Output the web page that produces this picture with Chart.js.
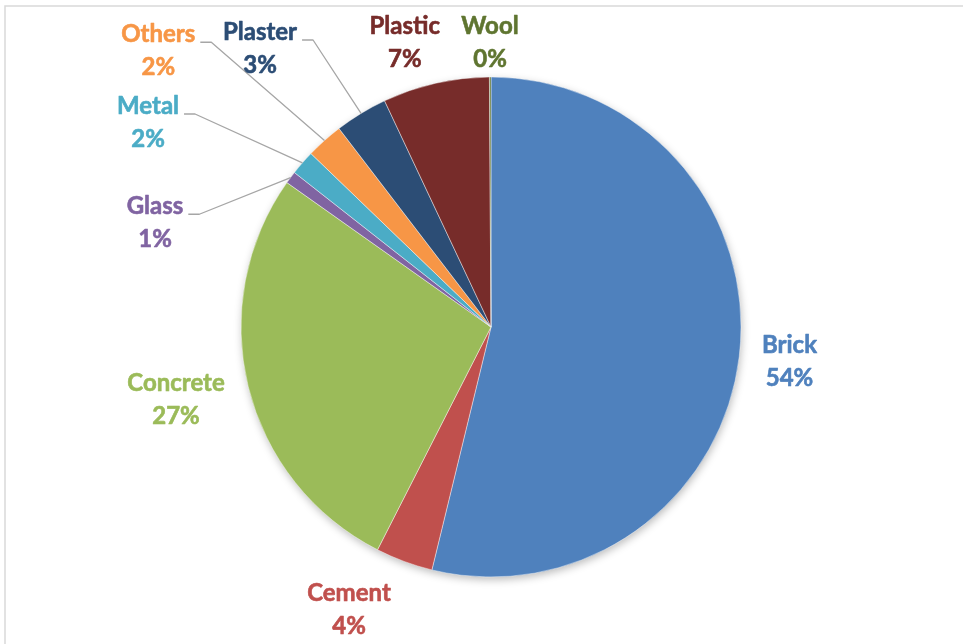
<!DOCTYPE html>
<html>
<head>
<meta charset="utf-8">
<title>Waste composition</title>
<script src="https://cdn.jsdelivr.net/npm/chart.js@4.4.1/dist/chart.umd.min.js"></script>
<style>
  html, body { margin: 0; padding: 0; background: #fff; overflow: hidden; }
  #wrap { width: 963px; height: 644px; position: relative; }
</style>
</head>
<body>
<div id="wrap"><canvas id="pie" width="963" height="644"></canvas></div>
<script>
const categories = ['Brick', 'Cement', 'Concrete', 'Glass', 'Metal', 'Others', 'Plaster', 'Plastic', 'Wool'];
const shares = [53.8, 3.7, 27.3, 0.8, 1.6, 2.4, 3.4, 6.9, 0.1];
const sliceColors = ['#4f81bd', '#c0504d', '#9bbb59', '#8064a2', '#4bacc6', '#f79646', '#2c4d75', '#772c2a', '#5f7530'];

// where each label block sits, in pie radii from the centre
const labelSpots = [
  [1.194, 0.141], [-0.568, 1.133], [-1.26, 0.291], [-1.344, -0.415], [-1.372, -0.816],
  [-1.331, -1.103], [-0.924, -1.112], [-0.345, -1.136], [-0.004, -1.135]
];
// small slices get a leader line out to their label
const leaderLines = [false, false, false, true, true, true, true, false, false];

const labelFont = 'bold 24px Lato';
const lineGap = 33;

const pieDecor = {
  id: 'pieDecor',
  beforeDraw(chart) {
    const ctx = chart.ctx;
    ctx.save();
    ctx.strokeStyle = '#d9d9d9';
    ctx.lineWidth = 1.5;
    ctx.beginPath();
    ctx.moveTo(5, 700);
    ctx.lineTo(5, 6);
    ctx.lineTo(1000, 6);
    ctx.stroke();
    ctx.restore();
  },
  beforeDatasetsDraw(chart) {
    // soft drop shadow under the pie
    const arc = chart.getDatasetMeta(0).data[0];
    const ctx = chart.ctx;
    ctx.save();
    ctx.shadowColor = 'rgba(0,0,0,0.28)';
    ctx.shadowBlur = 9;
    ctx.shadowOffsetX = 1;
    ctx.shadowOffsetY = 3;
    ctx.fillStyle = '#fff';
    ctx.beginPath();
    ctx.arc(arc.x, arc.y, arc.outerRadius - 0.5, 0, Math.PI * 2);
    ctx.fill();
    ctx.restore();
  },
  afterDatasetsDraw(chart) {
    const ctx = chart.ctx;
    const arcs = chart.getDatasetMeta(0).data;
    const total = shares.reduce((a, b) => a + b, 0);
    ctx.save();
    ctx.font = labelFont;
    ctx.textAlign = 'center';
    ctx.textBaseline = 'middle';
    ctx.lineJoin = 'round';
    arcs.forEach((arc, i) => {
      const { x, y, startAngle, endAngle, outerRadius } = arc;
      const cx = x + labelSpots[i][0] * outerRadius;
      const cy = y + labelSpots[i][1] * outerRadius;
      const top = cy - lineGap / 2;
      const name = categories[i];
      const pct = Math.round(shares[i] / total * 100) + '%';
      if (leaderLines[i]) {
        const mid = (startAngle + endAngle) / 2;
        const ex = x + Math.cos(mid) * outerRadius;
        const ey = y + Math.sin(mid) * outerRadius;
        const lx = cx + ctx.measureText(name).width / 2 + 5;
        const ly = top + 7.5;
        ctx.strokeStyle = '#a6a6a6';
        ctx.lineWidth = 1.3;
        ctx.beginPath();
        ctx.moveTo(lx, ly);
        ctx.lineTo(lx + 11, ly);
        ctx.lineTo(ex, ey);
        ctx.stroke();
      }
      // thin outline in the fill colour gives the heavier label weight
      ctx.fillStyle = sliceColors[i];
      ctx.strokeStyle = sliceColors[i];
      ctx.lineWidth = 0.6;
      ctx.fillText(name, cx, top);
      ctx.strokeText(name, cx, top);
      ctx.fillText(pct, cx, top + lineGap);
      ctx.strokeText(pct, cx, top + lineGap);
    });
    ctx.restore();
  }
};

function drawChart() {
  new Chart(document.getElementById('pie'), {
    type: 'pie',
    data: {
      labels: categories,
      datasets: [{
        data: shares,
        backgroundColor: sliceColors,
        borderColor: 'rgba(255,255,255,0.7)',
        borderWidth: 0.6
      }]
    },
    options: {
      responsive: false,
      animation: false,
      events: [],
      radius: 250,
      layout: { padding: { left: 241, right: 222, top: 77, bottom: 67 } },
      plugins: {
        legend: { display: false },
        tooltip: { enabled: false }
      }
    },
    plugins: [pieDecor]
  });
}

document.fonts.load(labelFont).then(drawChart, drawChart);
</script>
</body>
</html>
